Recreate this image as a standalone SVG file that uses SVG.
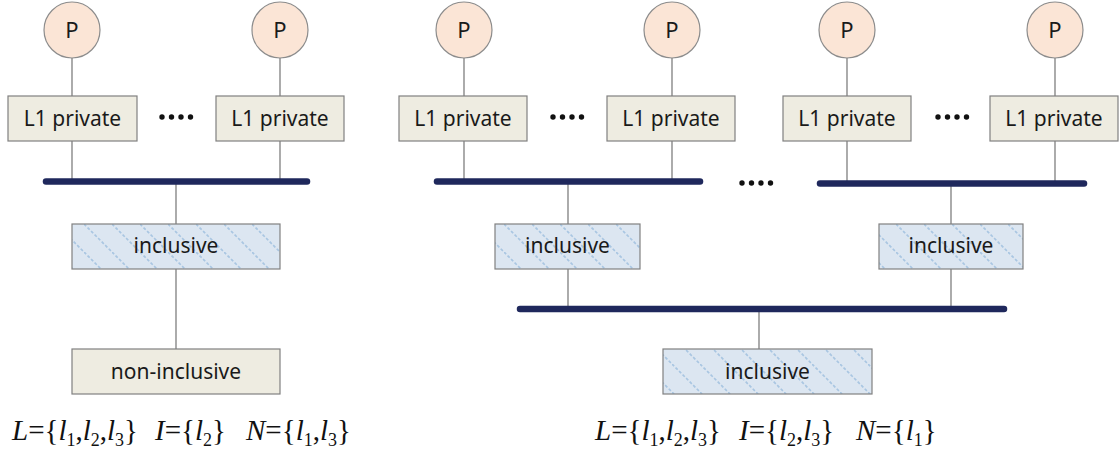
<svg xmlns="http://www.w3.org/2000/svg" width="1119" height="453" viewBox="0 0 1119 453">
<style>
.proc{fill:#fbe5d6;stroke:#8c8c8c;stroke-width:1.2}
.box{fill:#eeece1;stroke:#808080;stroke-width:1.2}
.inc{stroke:#808080;stroke-width:1.2}
.lbl{font-family:"Noto Sans","Open Sans",sans-serif;font-size:21px;fill:#1a1a1a;text-anchor:middle}
.pl{font-size:22px}
.wire{stroke:#7f7f7f;stroke-width:1.3;fill:none}
.bus{stroke:#1f285c;stroke-width:6.5;stroke-linecap:round;fill:none}
.dot{fill:#111}
.math{font-family:"Liberation Serif","Times New Roman",serif;font-size:29px;fill:#111}
.it{font-style:italic}
.sub{font-size:18px}
</style>
<defs>
<pattern id="hatch" patternUnits="userSpaceOnUse" width="28" height="28">
<rect width="28" height="28" fill="#dce6f1"/>
<path d="M0,0 L28,28 M-14,14 L0,28 M14,-14 L28,0" stroke="#a9c6e2" stroke-width="1.7" stroke-dasharray="3 2"/>
</pattern>
</defs>

<g id="connectors">
<line class="wire" x1="72" y1="58" x2="72" y2="96"/>
<line class="wire" x1="280" y1="58" x2="280" y2="96"/>
<line class="wire" x1="72" y1="141" x2="72" y2="181"/>
<line class="wire" x1="280" y1="141" x2="280" y2="181"/>
<line class="wire" x1="176" y1="182" x2="176" y2="224"/>
<line class="wire" x1="176" y1="269" x2="176" y2="349"/>
<line class="wire" x1="464" y1="58" x2="464" y2="96"/>
<line class="wire" x1="672" y1="58" x2="672" y2="96"/>
<line class="wire" x1="847" y1="58" x2="847" y2="96"/>
<line class="wire" x1="1055" y1="58" x2="1055" y2="96"/>
<line class="wire" x1="464" y1="141" x2="464" y2="181"/>
<line class="wire" x1="672" y1="141" x2="672" y2="181"/>
<line class="wire" x1="847" y1="141" x2="847" y2="183"/>
<line class="wire" x1="1055" y1="141" x2="1055" y2="183"/>
<line class="wire" x1="568" y1="182" x2="568" y2="224"/>
<line class="wire" x1="951" y1="184" x2="951" y2="224"/>
<line class="wire" x1="568" y1="269" x2="568" y2="309"/>
<line class="wire" x1="951" y1="269" x2="951" y2="309"/>
<line class="wire" x1="759" y1="309" x2="759" y2="349"/>
<line class="bus" x1="46" y1="181.5" x2="307" y2="181.5"/>
<line class="bus" x1="437" y1="181.5" x2="700" y2="181.5"/>
<line class="bus" x1="820" y1="183.5" x2="1084" y2="183.5"/>
<line class="bus" x1="520" y1="309" x2="1004" y2="309"/>
</g>

<g id="p1"><circle class="proc" cx="72" cy="30" r="28"/><text class="lbl pl" x="72" y="38">P</text></g>
<g id="p2"><circle class="proc" cx="280" cy="30" r="28"/><text class="lbl pl" x="280" y="38">P</text></g>
<g id="p3"><circle class="proc" cx="464" cy="30" r="28"/><text class="lbl pl" x="464" y="38">P</text></g>
<g id="p4"><circle class="proc" cx="672" cy="30" r="28"/><text class="lbl pl" x="672" y="38">P</text></g>
<g id="p5"><circle class="proc" cx="847" cy="30" r="28"/><text class="lbl pl" x="847" y="38">P</text></g>
<g id="p6"><circle class="proc" cx="1055" cy="30" r="28"/><text class="lbl pl" x="1055" y="38">P</text></g>

<g id="l1a"><rect class="box" x="8" y="96" width="129" height="45"/><text class="lbl" x="72.5" y="126">L1 private</text></g>
<g id="l1b"><rect class="box" x="216" y="96" width="128" height="45"/><text class="lbl" x="280" y="126">L1 private</text></g>
<g id="l1c"><rect class="box" x="399" y="96" width="128" height="45"/><text class="lbl" x="463" y="126">L1 private</text></g>
<g id="l1d"><rect class="box" x="607" y="96" width="128" height="45"/><text class="lbl" x="671" y="126">L1 private</text></g>
<g id="l1e"><rect class="box" x="783" y="96" width="128" height="45"/><text class="lbl" x="847" y="126">L1 private</text></g>
<g id="l1f"><rect class="box" x="990" y="96" width="128" height="45"/><text class="lbl" x="1054" y="126">L1 private</text></g>

<g id="dots">
<circle class="dot" cx="162" cy="117" r="2.7"/><circle class="dot" cx="171.5" cy="117" r="2.7"/><circle class="dot" cx="181" cy="117" r="2.7"/><circle class="dot" cx="190.5" cy="117" r="2.7"/>
<circle class="dot" cx="553" cy="117" r="2.7"/><circle class="dot" cx="562.5" cy="117" r="2.7"/><circle class="dot" cx="572" cy="117" r="2.7"/><circle class="dot" cx="581.5" cy="117" r="2.7"/>
<circle class="dot" cx="938" cy="117" r="2.7"/><circle class="dot" cx="947.5" cy="117" r="2.7"/><circle class="dot" cx="957" cy="117" r="2.7"/><circle class="dot" cx="966.5" cy="117" r="2.7"/>
<circle class="dot" cx="742" cy="183" r="2.7"/><circle class="dot" cx="751.5" cy="183" r="2.7"/><circle class="dot" cx="761" cy="183" r="2.7"/><circle class="dot" cx="770.5" cy="183" r="2.7"/>
</g>

<g id="incL"><rect class="inc" fill="url(#hatch)" x="72" y="224" width="208" height="45"/><text class="lbl" x="176" y="253">inclusive</text></g>
<g id="nonincL"><rect class="box" x="72" y="349" width="208" height="45"/><text class="lbl" x="176" y="379">non-inclusive</text></g>
<g id="incR1"><rect class="inc" fill="url(#hatch)" x="495" y="224" width="145" height="45"/><text class="lbl" x="567.5" y="253">inclusive</text></g>
<g id="incR2"><rect class="inc" fill="url(#hatch)" x="879" y="224" width="144" height="45"/><text class="lbl" x="951" y="253">inclusive</text></g>
<g id="incR3"><rect class="inc" fill="url(#hatch)" x="663" y="349" width="209" height="45"/><text class="lbl" x="767.5" y="379">inclusive</text></g>

<g id="formulaL">
<text class="math" font-family="Liberation Serif, serif" x="12" y="440"><tspan class="it">L</tspan>={<tspan class="it">l</tspan><tspan class="sub" dy="6">1</tspan><tspan dy="-6">,</tspan><tspan class="it">l</tspan><tspan class="sub" dy="6">2</tspan><tspan dy="-6">,</tspan><tspan class="it">l</tspan><tspan class="sub" dy="6">3</tspan><tspan dy="-6">}</tspan></text>
<text class="math" font-family="Liberation Serif, serif" x="155" y="440"><tspan class="it">I</tspan>={<tspan class="it">l</tspan><tspan class="sub" dy="6">2</tspan><tspan dy="-6">}</tspan></text>
<text class="math" font-family="Liberation Serif, serif" x="246" y="440"><tspan class="it">N</tspan>={<tspan class="it">l</tspan><tspan class="sub" dy="6">1</tspan><tspan dy="-6">,</tspan><tspan class="it">l</tspan><tspan class="sub" dy="6">3</tspan><tspan dy="-6">}</tspan></text>
</g>
<g id="formulaR">
<text class="math" font-family="Liberation Serif, serif" x="595" y="440"><tspan class="it">L</tspan>={<tspan class="it">l</tspan><tspan class="sub" dy="6">1</tspan><tspan dy="-6">,</tspan><tspan class="it">l</tspan><tspan class="sub" dy="6">2</tspan><tspan dy="-6">,</tspan><tspan class="it">l</tspan><tspan class="sub" dy="6">3</tspan><tspan dy="-6">}</tspan></text>
<text class="math" font-family="Liberation Serif, serif" x="739" y="440"><tspan class="it">I</tspan>={<tspan class="it">l</tspan><tspan class="sub" dy="6">2</tspan><tspan dy="-6">,</tspan><tspan class="it">l</tspan><tspan class="sub" dy="6">3</tspan><tspan dy="-6">}</tspan></text>
<text class="math" font-family="Liberation Serif, serif" x="856" y="440"><tspan class="it">N</tspan>={<tspan class="it">l</tspan><tspan class="sub" dy="6">1</tspan><tspan dy="-6">}</tspan></text>
</g>
</svg>
